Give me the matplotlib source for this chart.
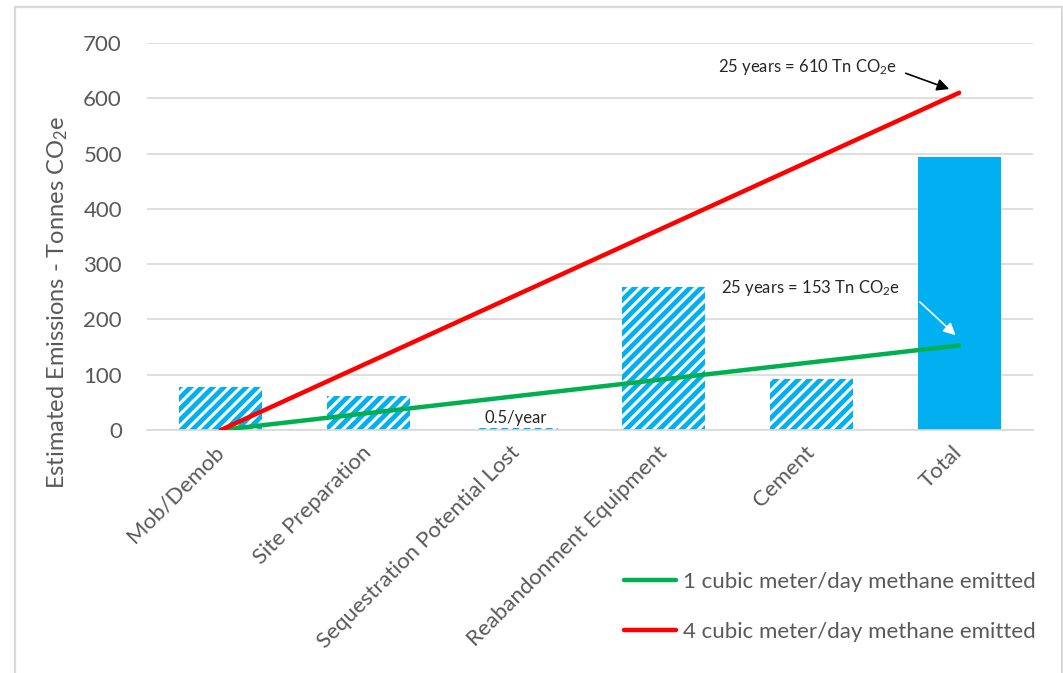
import matplotlib
matplotlib.use("Agg")
import matplotlib.pyplot as plt
from matplotlib.patches import Rectangle

plt.rcParams["font.family"] = ["Lato", "DejaVu Sans"]
plt.rcParams["mathtext.fontset"] = "custom"
plt.rcParams["mathtext.rm"] = "Lato"
plt.rcParams["mathtext.it"] = "Lato:italic"
plt.rcParams["hatch.linewidth"] = 3.4

categories = ["Mob/Demob", "Site Preparation", "Sequestration Potential Lost",
              "Reabandonment Equipment", "Cement", "Total"]
emissions = [78, 61, 3, 259, 92, 493]
hatched = [True, True, True, True, True, False]

# methane leak lines run from the first category to the total
line_x = [0, 5]
methane_1m3 = [0, 153]
methane_4m3 = [0, 610]

yticks = [0, 100, 200, 300, 400, 500, 600, 700]

BLUE = "#00B0F0"
GREEN = "#00B050"
RED = "#FF0000"
GRAY_TEXT = "#595959"
GRID = "#D9D9D9"

W, H = 1063, 673
fig = plt.figure(figsize=(W / 100, H / 100), dpi=100)
ax = fig.add_axes([147 / W, 1 - 430 / H, (1033 - 147) / W, (430 - 43) / H])

x = list(range(len(categories)))
for xi, val, h in zip(x, emissions, hatched):
    if h:
        ax.bar(xi, val, width=0.56, facecolor="white", edgecolor=BLUE,
               hatch="///", linewidth=0, zorder=2)
    else:
        ax.bar(xi, val, width=0.56, color=BLUE, linewidth=0, zorder=2)

l1, = ax.plot(line_x, methane_1m3, color=GREEN, lw=3.2, solid_capstyle="round",
              zorder=3, label="1 cubic meter/day methane emitted")
l2, = ax.plot(line_x, methane_4m3, color=RED, lw=3.2, solid_capstyle="round",
              zorder=3, label="4 cubic meter/day methane emitted")

ax.set_xlim(-0.5, len(categories) - 0.5)
ax.set_ylim(0, 700)
ax.set_yticks(yticks)
ax.set_xticks(x)
ax.set_xticklabels(categories, rotation=45, ha="right", va="center",
                   rotation_mode="anchor", fontsize=16, color=GRAY_TEXT)
ax.tick_params(axis="y", labelsize=16, labelcolor=GRAY_TEXT, length=0, pad=18)
ax.tick_params(axis="x", length=0, pad=14)
ax.grid(axis="y", color=GRID, lw=1.2, zorder=0)
ax.set_axisbelow(True)
for side in ["left", "right", "top"]:
    ax.spines[side].set_visible(False)
ax.spines["bottom"].set_color(GRID)
ax.spines["bottom"].set_linewidth(1.2)

ax.set_ylabel("Estimated Emissions - Tonnes CO$_2$e", fontsize=17,
              color=GRAY_TEXT)
ax.yaxis.set_label_coords(-0.087, 0.33)

# annotations for the 25 year totals
ax.text(4.58, 657, "25 years = 610 Tn CO$_2$e", ha="right", va="center",
        fontsize=12, color="#262626")
ax.annotate("", xy=(4.95, 615), xytext=(4.62, 647),
            arrowprops=dict(arrowstyle="-|>", color="black", lw=1.2,
                            mutation_scale=18), zorder=4)
ax.text(4.60, 257, "25 years = 153 Tn CO$_2$e", ha="right", va="center",
        fontsize=12, color="#262626")
ax.annotate("", xy=(4.99, 168), xytext=(4.72, 235),
            arrowprops=dict(arrowstyle="-|>", color="white", lw=1.2,
                            mutation_scale=18), zorder=4)
ax.text(2.0, 22, "0.5/year", ha="center", va="center", fontsize=12,
        color="#262626")

fig.legend(handles=[l1, l2], loc="upper left",
           bbox_to_anchor=(604 / W, 1 - 552 / H), frameon=False,
           fontsize=16, labelcolor=GRAY_TEXT, handlelength=2.35,
           handletextpad=0.3, labelspacing=1.35)

# outer chart border
fig.add_artist(Rectangle((15 / W, -0.05), (1062 - 15) / W, 1.05 - 7 / H,
                         transform=fig.transFigure, fill=False,
                         edgecolor=GRID, lw=1.6))

fig.savefig("out.png", dpi=100)
